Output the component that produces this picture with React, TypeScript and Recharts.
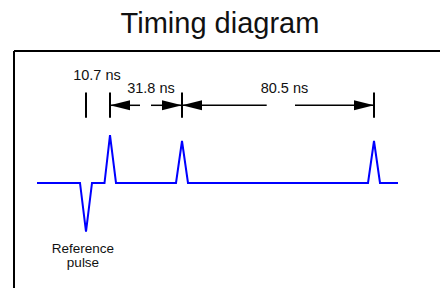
import React from 'react';
import { ComposedChart, Line, Scatter, XAxis, YAxis, ReferenceLine } from 'recharts';

// Waveform (diagram time units, amplitude units: standard pulse = 1)
const waveT = [37, 80, 86, 92, 104.5, 110, 116, 176, 182, 188, 368, 374, 380, 398];
const waveV = [0, 0, -1.16, 0, 0, 1.14, 0, 0, 1, 0, 0, 1, 0, 0];

// Timing markers
const markerT = [86, 110, 182, 374];
const markerTop = 2.155;
const markerBottom = 1.555;

// Dimension arrows
const arrowV = 1.85;
const arrowStart = [110, 182];
const arrowEnd = [182, 374];
const arrowGapStart = [140, 266.7];
const arrowGapEnd = [151, 295];

// Interval labels
const intervalLabels = ['10.7 ns', '31.8 ns', '80.5 ns'];
const intervalLabelT = [97, 151, 284.5];
const intervalLabelV = [2.452, 2.136, 2.143];

const refLabelLines = ['Reference', 'pulse'];
const refLabelT = 83;
const refLabelV = -1.66;

const title = 'Timing diagram';
const titleT = 220;
const titleV = 3.571;

// Frame
const frameLeftT = 14;
const frameTopV = 3.143;
const domainT: [number, number] = [0, 440];
const domainV: [number, number] = [-2.5, 4.3571];

const waveData = waveT.map((t, i) => ({ t, v: waveV[i] }));
const headData = arrowStart.flatMap((s, i) => [
  { t: s, v: arrowV, dir: -1 },
  { t: arrowEnd[i], v: arrowV, dir: 1 },
]);
const textData = [
  ...intervalLabels.map((text, i) => ({ t: intervalLabelT[i], v: intervalLabelV[i], text, size: 14.5 })),
  { t: titleT, v: titleV, text: title, size: 29 },
];
const refData = [{ t: refLabelT, v: refLabelV }];

const FONT = '"Liberation Sans", Arial, sans-serif';

const ArrowHead = (props: any) => {
  const { cx, cy, payload } = props;
  const d = payload.dir;
  const path = `M ${cx} ${cy} L ${cx - d * 20} ${cy - 5} L ${cx - d * 20} ${cy + 5} Z`;
  return <path d={path} fill="#000" stroke="none" />;
};

const TextShape = (props: any) => {
  const { cx, cy, payload } = props;
  return (
    <text x={cx} y={cy} textAnchor="middle" fontFamily={FONT} fontSize={payload.size} fill="#111">
      {payload.text}
    </text>
  );
};

const RefText = (props: any) => {
  const { cx, cy } = props;
  return (
    <text x={cx} y={cy} textAnchor="middle" fontFamily={FONT} fontSize={13.5} fill="#111">
      {refLabelLines.map((l, i) => (
        <tspan key={i} x={cx} dy={i === 0 ? 0 : 14}>
          {l}
        </tspan>
      ))}
    </text>
  );
};

export default function App() {
  return (
    <div style={{ position: 'absolute', left: 0, top: 0, background: '#fff' }}>
      <ComposedChart width={440} height={288} data={waveData} margin={{ top: 0, right: 0, bottom: 0, left: 0 }}>
        <XAxis dataKey="t" type="number" domain={domainT} allowDataOverflow hide />
        <YAxis dataKey="v" type="number" domain={domainV} allowDataOverflow hide />
        <ReferenceLine
          segment={[{ x: frameLeftT, y: frameTopV }, { x: frameLeftT, y: domainV[0] }]}
          stroke="#000"
          strokeWidth={2}
          ifOverflow="visible"
        />
        <ReferenceLine
          segment={[{ x: frameLeftT, y: frameTopV }, { x: domainT[1], y: frameTopV }]}
          stroke="#000"
          strokeWidth={2}
          ifOverflow="visible"
        />
        {markerT.map((t, i) => (
          <ReferenceLine
            key={'m' + i}
            segment={[{ x: t, y: markerTop }, { x: t, y: markerBottom }]}
            stroke="#000"
            strokeWidth={2}
            ifOverflow="visible"
          />
        ))}
        {arrowStart.map((s, i) => (
          <ReferenceLine
            key={'a' + i}
            segment={[{ x: s, y: arrowV }, { x: arrowGapStart[i], y: arrowV }]}
            stroke="#000"
            strokeWidth={1.5}
            ifOverflow="visible"
          />
        ))}
        {arrowEnd.map((e, i) => (
          <ReferenceLine
            key={'b' + i}
            segment={[{ x: arrowGapEnd[i], y: arrowV }, { x: e, y: arrowV }]}
            stroke="#000"
            strokeWidth={1.5}
            ifOverflow="visible"
          />
        ))}
        <Line
          dataKey="v"
          type="linear"
          stroke="#0000ff"
          strokeWidth={2}
          dot={false}
          activeDot={false}
          isAnimationActive={false}
        />
        <Scatter data={headData} dataKey="v" shape={ArrowHead} isAnimationActive={false} />
        <Scatter data={textData} dataKey="v" shape={TextShape} isAnimationActive={false} />
        <Scatter data={refData} dataKey="v" shape={RefText} isAnimationActive={false} />
      </ComposedChart>
    </div>
  );
}
